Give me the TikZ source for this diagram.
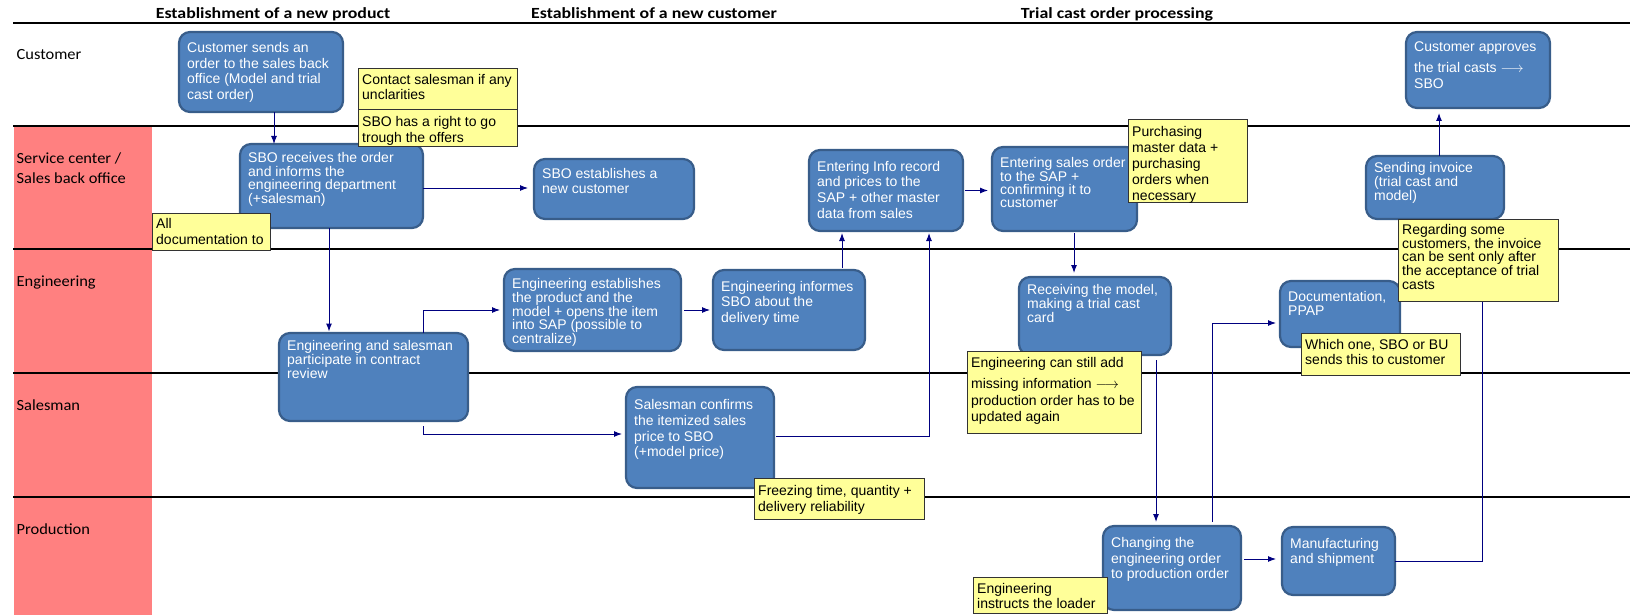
\documentclass[tikz,border=0pt]{standalone}
\usepackage{fontspec}
\setmainfont{Liberation Sans}
\newfontfamily\lanefont[FakeStretch=1.06]{Carlito}
\newfontfamily\headfont[FakeStretch=1.15]{Carlito}
\usetikzlibrary{arrows.meta}

\definecolor{boxfill}{RGB}{79,129,189}
\definecolor{boxdraw}{RGB}{56,93,138}
\definecolor{notefill}{RGB}{255,255,153}
\definecolor{lanered}{RGB}{255,128,128}
\definecolor{flow}{RGB}{0,0,128}

\tikzset{
  pbox/.style={draw=boxdraw, fill=boxfill, line width=2.2pt, rounded corners=11pt,
    inner sep=0pt, outer sep=0pt},
  ptext/.style={anchor=north west, inner sep=0pt, align=left, text=white},
  nbox/.style={draw=black!80, fill=notefill, line width=1pt, inner sep=0pt, outer sep=0pt},
  ntext/.style={anchor=north west, inner sep=0pt, align=left, text=black},
  arr/.style={draw=flow, line width=1pt, -{Latex[length=8pt,width=6pt]}},
  lane/.style={line width=2pt, black},
  lanelabel/.style={anchor=base west, inner sep=0pt, font=\lanefont\fontsize{15.5}{18}\selectfont},
  header/.style={anchor=base, inner sep=0pt, font=\headfont\bfseries\fontsize{15.5}{18}\selectfont},
}

% process step: name, x1, y1, x2, y2, top padding, line spacing, text
\newcommand{\procbox}[8]{%
  \node[pbox, minimum width={(#4)-(#2)}, minimum height={(#5)-(#3)}, anchor=north west] (#1) at (#2,#3) {};
  \node[ptext, font=\fontsize{14}{#7}\selectfont] (#1-txt) at ([xshift=8pt,yshift=-#6pt]#1.north west) {#8};
}
% remark: name, x1, y1, x2, y2, top padding, line spacing, text
\newcommand{\notebox}[8]{%
  \node[nbox, minimum width={(#4)-(#2)}, minimum height={(#5)-(#3)}, anchor=north west] (#1) at (#2,#3) {};
  \node[ntext, font=\fontsize{14}{#7}\selectfont] (#1-txt) at ([xshift=4pt,yshift=-#6pt]#1.north west) {#8};
}

\begin{document}
\begin{tikzpicture}[x=1pt, y=-1pt]
\useasboundingbox (0,0) rectangle (1630,615);

% lane header column and lane separators
\fill[lanered] (14,126) rectangle (152,615);
\foreach \yy in {23,126,249,373,497}
  \draw[lane] (13,\yy) -- (1630,\yy);

% phase titles
\node[header] (ph1) at (273,19) {Establishment of a new product};
\node[header] (ph2) at (654,19) {Establishment of a new customer};
\node[header] (ph3) at (1117,19) {Trial cast order processing};

% lane names
\node[lanelabel] (l-cust) at (16.5,59.3) {Customer};
\node[lanelabel] (l-sc1) at (16.5,163.3) {Service center /};
\node[lanelabel] (l-sc2) at (16.5,183.3) {Sales back office};
\node[lanelabel] (l-eng) at (16.5,286.7) {Engineering};
\node[lanelabel] (l-sal) at (16.5,410) {Salesman};
\node[lanelabel] (l-prod) at (16.5,534) {Production};

% process steps
\procbox{cust}{179}{32}{343}{112}{10.5}{15.5}{Customer sends an\\order to the sales back\\office (Model and trial\\cast order)}
\procbox{sbo}{240}{144}{423}{228}{8.5}{13.5}{SBO receives the order\\and informs the\\engineering department\\(+salesman)}
\procbox{sboest}{534}{159}{694}{219}{9.3}{15}{SBO establishes a\\new customer}
\procbox{info}{809}{150}{963}{231}{10.7}{15.7}{Entering Info record\\and prices to the\\SAP + other master\\data from sales}
\procbox{sales}{992}{147}{1137}{231}{10}{13}{Entering sales order\\to the SAP +\\confirming it to\\customer}
\procbox{approve}{1406}{32}{1550}{108}{10}{16}{Customer approves\\[4.7pt]the trial casts $\longrightarrow$\\SBO}
\procbox{invoice}{1366}{156}{1504}{219}{6}{12.5}{Sending invoice\\(trial cast and\\model)}
\procbox{engest}{504}{269}{681}{351}{9.3}{13.7}{Engineering establishes\\the product and the\\model + opens the item\\into SAP (possible to\\centralize)}
\procbox{enginf}{713}{270}{865}{350}{10.7}{15.7}{Engineering informes\\SBO about the\\delivery time}
\procbox{review}{279}{333}{468}{421}{7.3}{12.5}{Engineering and salesman\\participate in contract\\review}
\procbox{recv}{1019}{277}{1171}{355}{6.7}{12.3}{Receiving the model,\\making a trial cast\\card}
\procbox{docu}{1280}{281}{1400}{347}{9.7}{14.3}{Documentation,\\PPAP}
\procbox{salconf}{626}{387}{774}{488}{12.3}{15.7}{Salesman confirms\\the itemized sales\\price to SBO\\(+model price)}
\procbox{change}{1103}{526}{1241}{610}{11}{15.7}{Changing the\\engineering order\\to production order}
\procbox{manuf}{1282}{527}{1395}{595}{11}{15}{Manufacturing\\and shipment}

% flow connectors
\draw[arr] ([xshift=13pt]cust.south) -- ([xshift=13pt]cust.south |- sbo.north);
\draw[arr, shorten >=6pt] ([yshift=-2pt]sbo.east) -- ([yshift=-2pt]sbo.east -| sboest.west);
\draw[arr, shorten >=1.5pt] ([xshift=-2.5pt]sbo.south) -- ([xshift=-2.5pt]sbo.south |- review.north);
\draw[arr, shorten >=4pt] ([xshift=49.5pt]review.north) |- (engest.west);
\draw[arr, shorten <=5pt, shorten >=4pt] ([xshift=49.5pt]review.south) |- ([yshift=3.5pt]salconf.west);
\draw[arr, shorten <=3pt, shorten >=3pt] (engest.east) -- (engest.east -| enginf.west);
\draw[arr, shorten <=2pt, shorten >=2pt] ([xshift=-44pt]info.south |- enginf.north) -- ([xshift=-44pt]info.south);
\draw[arr, shorten <=2pt, shorten >=2pt] ([yshift=1.5pt]salconf.east) -| ([xshift=43pt]info.south);
\draw[arr, shorten <=2pt, shorten >=4pt] (info.east) -- (info.east -| sales.west);
\draw[arr, shorten <=2pt, shorten >=4pt] ([xshift=9.5pt]sales.south) -- ([xshift=9.5pt]sales.south |- recv.north);
\draw[arr, shorten <=5pt, shorten >=4pt] ([xshift=61pt]recv.south) -- ([xshift=61pt]recv.south |- change.north);
\draw[arr, shorten <=4pt, shorten >=4pt] ([xshift=40pt]change.north) |- ([yshift=-9pt]docu.west);
\draw[arr, shorten <=3pt, shorten >=6pt] ([yshift=9pt]change.east) -- ([yshift=9pt]change.east -| manuf.west);
\draw[arr, shorten >=1pt] (manuf.east) -| ([xshift=47pt]invoice.south);
\draw[arr, shorten >=5pt] ([xshift=4pt]invoice.north) -- ([xshift=4pt]invoice.north |- approve.south);

% remarks
\notebox{n1}{358}{69}{517}{110}{5}{15.3}{Contact salesman if any\\unclarities}
\notebox{n2}{358}{110}{517}{147}{6}{16}{SBO has a right to go\\trough the offers}
\notebox{n3}{152}{213}{270}{250}{5.3}{15.7}{All\\documentation to}
\notebox{n4}{1128}{120}{1247}{202}{6}{16}{Purchasing\\master data +\\purchasing\\orders when\\necessary}
\notebox{n5}{1398}{219}{1558}{301}{5}{13.7}{Regarding some\\customers, the invoice\\can be sent only after\\the acceptance of trial\\casts}
\notebox{n6}{1301}{333}{1460}{375}{5.7}{15}{Which one, SBO or BU\\sends this to customer}
\notebox{n7}{967}{351}{1141}{433}{6.3}{16.7}{Engineering can still add\\[4pt]missing information $\longrightarrow$\\production order has to be\\updated again}
\notebox{n8}{754}{478}{924}{519}{7}{15.7}{Freezing time, quantity +\\delivery reliability}
\notebox{n9}{973}{577}{1107}{613}{6.3}{15}{Engineering\\instructs the loader}

\end{tikzpicture}
\end{document}
